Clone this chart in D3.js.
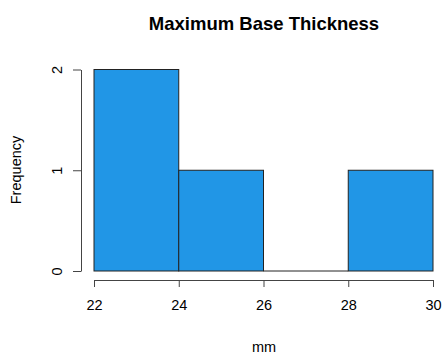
<!DOCTYPE html>
<html>
<head>
<meta charset="utf-8">
<script src="https://cdn.jsdelivr.net/npm/d3@7"></script>
<style>
  html, body { margin: 0; padding: 0; background: #fff; }
  svg { display: block; font-family: "Liberation Sans", Arial, sans-serif; }
</style>
</head>
<body>
<svg id="chart" width="443" height="354"></svg>
<script>
// Histogram bins (mm) and counts
const binStarts = [22, 24, 26, 28];
const binEnds   = [24, 26, 28, 30];
const counts    = [2, 1, 0, 1];
const xTicks = [22, 24, 26, 28, 30];
const yTicks = [0, 1, 2];

const svg = d3.select("#chart");
const x = d3.scaleLinear().domain([22, 30]).range([94, 433]);
const y = d3.scaleLinear().domain([0, 2]).range([271, 69.5]);

const bins = binStarts.map((s, i) => ({ x0: s, x1: binEnds[i], n: counts[i] }));

// bars with a non-zero count
svg.append("g").selectAll("rect").data(bins.filter(d => d.n > 0)).join("rect")
  .attr("x", d => x(d.x0))
  .attr("y", d => y(d.n))
  .attr("width", d => x(d.x1) - x(d.x0))
  .attr("height", d => y(0) - y(d.n))
  .attr("fill", "#2196e6")
  .attr("stroke", "#222")
  .attr("stroke-width", 1);

// empty bins collapse to a flat line at zero
svg.append("g").selectAll("line").data(bins.filter(d => d.n === 0)).join("line")
  .attr("x1", d => x(d.x0)).attr("x2", d => x(d.x1))
  .attr("y1", y(0)).attr("y2", y(0))
  .attr("stroke", "#222").attr("stroke-width", 1);

// x axis
const xAxis = svg.append("g").attr("transform", "translate(0,280)")
  .call(d3.axisBottom(x).tickValues(xTicks).tickFormat(d3.format("d"))
    .tickSize(7).tickPadding(13).tickSizeOuter(0));
xAxis.select(".domain").attr("stroke", "#444");
xAxis.selectAll(".tick line").attr("stroke", "#444");
xAxis.selectAll("text").attr("font-size", "14.5px").attr("fill", "#000")
  .attr("font-family", "Liberation Sans, Arial, sans-serif");

// y axis
const yAxis = svg.append("g").attr("transform", "translate(81,0)")
  .call(d3.axisLeft(y).tickValues(yTicks).tickFormat(d3.format("d"))
    .tickSize(8).tickPadding(0).tickSizeOuter(0));
yAxis.select(".domain").attr("stroke", "#444");
yAxis.selectAll(".tick line").attr("stroke", "#444");
yAxis.selectAll("text")
  .attr("font-size", "14.5px").attr("fill", "#000")
  .attr("font-family", "Liberation Sans, Arial, sans-serif")
  .attr("text-anchor", "middle")
  .attr("x", 0).attr("dy", 0)
  .attr("transform", "translate(-24,0) rotate(-90)")
  .attr("dominant-baseline", "central");

// titles
svg.append("text").attr("x", 264).attr("y", 30)
  .attr("text-anchor", "middle").attr("font-weight", "bold").attr("font-size", "18.5px")
  .text("Maximum Base Thickness");
svg.append("text").attr("x", 264).attr("y", 352)
  .attr("text-anchor", "middle").attr("font-size", "14.5px")
  .text("mm");
svg.append("text").attr("transform", "translate(21,170) rotate(-90)")
  .attr("text-anchor", "middle").attr("font-size", "14.5px")
  .text("Frequency");
</script>
</body>
</html>
